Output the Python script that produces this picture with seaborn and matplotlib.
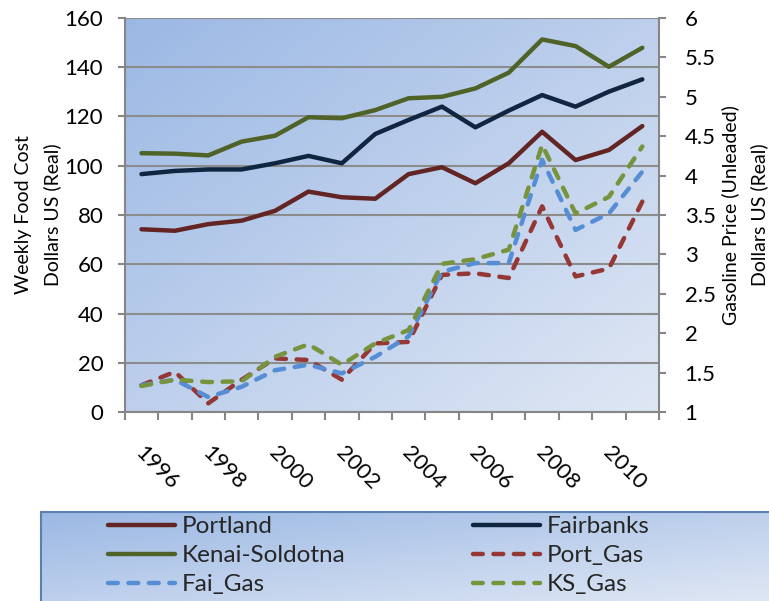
import numpy as np
import pandas as pd
import matplotlib
matplotlib.use("Agg")
import matplotlib.pyplot as plt
from matplotlib.lines import Line2D
from matplotlib.transforms import ScaledTranslation
import seaborn as sns

years = list(range(1996, 2012))
portland = [74.2, 73.6, 76.3, 77.7, 81.7, 89.5, 87.2, 86.6, 96.6, 99.4, 92.9, 101.0, 113.8, 102.3, 106.4, 116.1]
fairbanks = [96.6, 97.9, 98.5, 98.5, 101.0, 104.0, 101.0, 112.9, 118.6, 124.0, 115.6, 122.4, 128.7, 124.0, 130.1, 135.1]
kenai = [105.1, 104.9, 104.2, 109.8, 112.2, 119.7, 119.3, 122.6, 127.4, 128.0, 131.4, 137.8, 151.3, 148.6, 140.2, 147.9]
port_gas = [1.34, 1.51, 1.11, 1.41, 1.68, 1.66, 1.41, 1.87, 1.89, 2.74, 2.76, 2.70, 3.61, 2.72, 2.82, 3.67]
fai_gas = [1.34, 1.41, 1.19, 1.32, 1.53, 1.60, 1.49, 1.70, 1.96, 2.78, 2.89, 2.89, 4.20, 3.31, 3.52, 4.05]
ks_gas = [1.33, 1.41, 1.38, 1.39, 1.70, 1.86, 1.60, 1.87, 2.04, 2.88, 2.94, 3.06, 4.39, 3.52, 3.73, 4.37]

food_names = ["Portland", "Fairbanks", "Kenai-Soldotna"]
gas_names = ["Port_Gas", "Fai_Gas", "KS_Gas"]
colors = {"Portland": "#632523", "Fairbanks": "#10253F", "Kenai-Soldotna": "#4F6228",
          "Port_Gas": "#953735", "Fai_Gas": "#558ED5", "KS_Gas": "#77933C"}

food = pd.DataFrame({"Year": years, "Portland": portland, "Fairbanks": fairbanks,
                     "Kenai-Soldotna": kenai}).melt("Year", var_name="Series", value_name="Value")
gas = pd.DataFrame({"Year": years, "Port_Gas": port_gas, "Fai_Gas": fai_gas,
                    "KS_Gas": ks_gas}).melt("Year", var_name="Series", value_name="Value")

sns.set_theme(style="white")
plt.rcParams['font.family'] = ['Lato', 'DejaVu Sans']

W, H = 769, 601
fig = plt.figure(figsize=(W / 100, H / 100), dpi=100)
L, R, T, B = 124.8, 659.0, 18.0, 412.0
ax = fig.add_axes([L / W, (H - B) / H, (R - L) / W, (B - T) / H])
axw = R - L

# gradient background
N = 256
xx, yy = np.meshgrid(np.linspace(0, 1, N), np.linspace(0, 1, N))
t = (xx + yy) / 2
c0 = np.array([0x9B, 0xB8, 0xE4]) / 255
c1 = np.array([0xDF, 0xE7, 0xF4]) / 255
grad = c0[None, None, :] * (1 - t[..., None]) + c1[None, None, :] * t[..., None]
ax.imshow(grad, extent=[0, 1, 0, 1], transform=ax.transAxes, aspect='auto', zorder=0)

lw = 3.2
dash = (2.2, 2.4)
sns.lineplot(data=food, x="Year", y="Value", hue="Series", hue_order=food_names,
             palette=colors, linewidth=lw, ax=ax, legend=False, zorder=3)
for ln in ax.lines:
    ln.set_solid_capstyle('round')
    ln.set_solid_joinstyle('round')

ax.set_xlim(1995.5, 2011.5)
ax.set_ylim(0, 160)
ax.set_yticks(range(0, 161, 20))
ax.grid(axis='y', color='#8C8C8C', linewidth=1.5)
ax.grid(axis='x', visible=False)
ax.set_axisbelow(True)

ax2 = ax.twinx()
sns.lineplot(data=gas, x="Year", y="Value", hue="Series", hue_order=gas_names,
             palette=colors, linewidth=lw, ax=ax2, legend=False, zorder=3)
for ln in ax2.lines:
    ln.set_dashes(dash)
    ln.set_dash_capstyle('round')
    ln.set_solid_joinstyle('round')
gas_ticks = np.arange(1, 6.01, 0.5)
ax2.set_ylim(1, 6)
ax2.set_yticks(gas_ticks)
ax2.set_yticklabels([f"{v:g}" for v in gas_ticks])
ax2.grid(False)

spine_c = '#868686'
for a in (ax, ax2):
    for s in a.spines.values():
        s.set_visible(False)
for a, side in ((ax, 'left'), (ax, 'bottom'), (ax2, 'right')):
    a.spines[side].set_visible(True)
    a.spines[side].set_color(spine_c)
    a.spines[side].set_linewidth(1.5)

tick_fs = 16
ax.tick_params(axis='y', which='major', direction='out', length=5, width=1.5, color=spine_c,
               left=True, labelsize=tick_fs, labelcolor='black', pad=10.5)
ax2.tick_params(axis='y', which='major', direction='out', length=5, width=1.5, color=spine_c,
                right=True, labelsize=tick_fs, labelcolor='black', pad=13.5)

# x ticks: marks at category boundaries, labels at even years
ax.set_xticks([y - 0.5 for y in years] + [years[-1] + 0.5], minor=True)
label_years = [y for y in years if y % 2 == 0]
ax.set_xticks(label_years)
ax.set_xticklabels([str(y) for y in label_years], rotation=-45, ha='left', va='top',
                   rotation_mode='anchor')
ax.tick_params(axis='x', which='minor', direction='out', length=6, width=1.5, color=spine_c, bottom=True)
ax.tick_params(axis='x', which='major', length=0, labelsize=tick_fs, labelcolor='black', pad=22)
shift = ScaledTranslation(4 / 100, 0, fig.dpi_scale_trans)
for lab in ax.get_xticklabels():
    lab.set_transform(lab.get_transform() + shift)

ax.set_xlabel("")
lab_fs = 14
ax.set_ylabel("Weekly Food Cost\nDollars US (Real)", fontsize=lab_fs, color='black',
              linespacing=1.75)
ax.yaxis.set_label_coords((61 - L) / axw, 0.5)
ax2.set_ylabel("Gasoline Price (Unleaded)\nDollars US (Real)", fontsize=lab_fs, color='black',
               linespacing=1.75)
ax2.yaxis.set_label_coords((721 - L) / axw, 0.5)

# legend box with gradient
box_top = 512
lax = fig.add_axes([41 / W, 0, 1 - 41 / W, (H - box_top) / H])
lax.imshow(grad, extent=[0, 1, 0, 1], transform=lax.transAxes, aspect='auto', zorder=0)
lax.set_xticks([])
lax.set_yticks([])
for s in lax.spines.values():
    s.set_color('#5B7FB0')
    s.set_linewidth(1.5)
lax.spines['right'].set_visible(False)
lax.spines['bottom'].set_visible(False)

def handle(name, dashed):
    h = Line2D([], [], color=colors[name], linewidth=lw)
    if dashed:
        h.set_dashes(dash)
        h.set_dash_capstyle('round')
    else:
        h.set_solid_capstyle('round')
    return h

leg_fs = 17.5
cols = [[("Portland", False), ("Kenai-Soldotna", False), ("Fai_Gas", True)],
        [("Fairbanks", False), ("Port_Gas", True), ("KS_Gas", True)]]
col_x = [108, 473]
lbw = W - 41
lbh = H - box_top
legs = []
for col, x0 in zip(cols, col_x):
    hs = [handle(n, d) for n, d in col]
    ls = [n for n, d in col]
    lg = lax.legend(hs, ls, loc='upper left', bbox_to_anchor=((x0 - 41) / lbw, 1 - 4 / lbh),
                    frameon=False, fontsize=leg_fs, handlelength=2.75, handletextpad=0.3,
                    labelspacing=0.33, borderpad=0, borderaxespad=0)
    legs.append(lg)
lax.add_artist(legs[0])

fig.savefig("out.png", dpi=100)
